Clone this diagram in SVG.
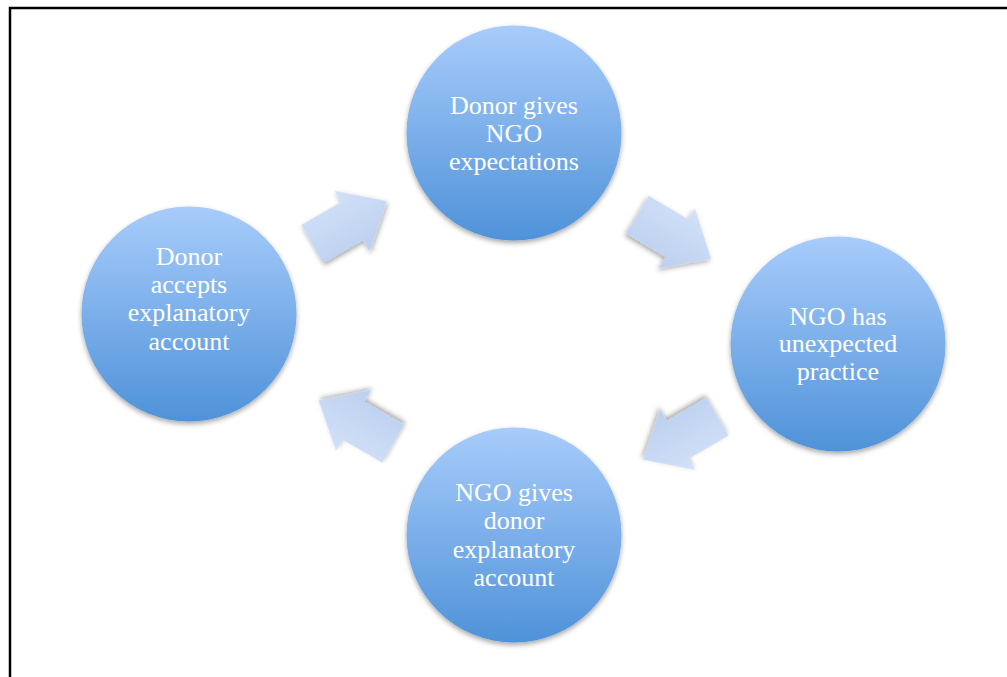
<svg xmlns="http://www.w3.org/2000/svg" width="1007" height="677" viewBox="0 0 1007 677">
  <defs>
    <linearGradient id="gCircle" x1="0" y1="0" x2="0" y2="1">
      <stop offset="0" stop-color="#a8ccfb"/>
      <stop offset="1" stop-color="#4f92d9"/>
    </linearGradient>
    <linearGradient id="gArrow" x1="0" y1="0" x2="0" y2="1">
      <stop offset="0" stop-color="#d2e1f8"/>
      <stop offset="1" stop-color="#bbcfef"/>
    </linearGradient>
    <filter id="shadow" x="-20%" y="-20%" width="140%" height="140%">
      <feDropShadow dx="0" dy="2.5" stdDeviation="2.5" flood-color="#000" flood-opacity="0.35"/>
    </filter>
    <polygon id="arrowShape" points="-43,-22 3,-22 3,-35 43,0 3,35 3,22 -43,22"/>
  </defs>
  <style>
    .node circle { fill: url(#gCircle); filter: url(#shadow); }
    .node text { font-family: "Liberation Serif", "Times New Roman", serif; font-size: 26px; fill: #ffffff; text-anchor: middle; }
    .conn use { fill: url(#gArrow); filter: url(#shadow); }
  </style>
  <rect x="0" y="0" width="1007" height="677" fill="#ffffff"/>
  <path d="M10 677 V8 H1007" fill="none" stroke="#000" stroke-width="2.5"/>

  <g id="connectors" class="conn">
    <use href="#arrowShape" transform="translate(349.5,222.6) rotate(-30)"/>
    <use href="#arrowShape" transform="translate(674.2,236.7) rotate(31)"/>
    <use href="#arrowShape" transform="translate(680.3,438.1) rotate(150)"/>
    <use href="#arrowShape" transform="translate(356,422) rotate(210)"/>
  </g>

  <g id="node-top" class="node">
    <circle cx="514" cy="133" r="107.5"/>
    <text x="514" y="114">Donor gives</text>
    <text x="514" y="142">NGO</text>
    <text x="514" y="170">expectations</text>
  </g>
  <g id="node-right" class="node">
    <circle cx="838" cy="344" r="107.5"/>
    <text x="838" y="325">NGO has</text>
    <text x="838" y="352">unexpected</text>
    <text x="838" y="380">practice</text>
  </g>
  <g id="node-bottom" class="node">
    <circle cx="514" cy="535" r="107.5"/>
    <text x="514" y="501">NGO gives</text>
    <text x="514" y="529">donor</text>
    <text x="514" y="557.5">explanatory</text>
    <text x="514" y="586">account</text>
  </g>
  <g id="node-left" class="node">
    <circle cx="189" cy="314" r="107.5"/>
    <text x="189" y="265">Donor</text>
    <text x="189" y="292.5">accepts</text>
    <text x="189" y="321">explanatory</text>
    <text x="189" y="350">account</text>
  </g>
</svg>
